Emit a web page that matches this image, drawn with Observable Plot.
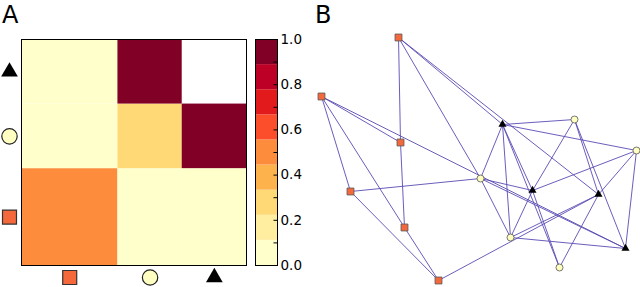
<!DOCTYPE html>
<html><head><meta charset="utf-8">
<script src="https://cdn.jsdelivr.net/npm/d3@7"></script>
<script src="https://cdn.jsdelivr.net/npm/@observablehq/plot@0.6"></script>
<style>
html,body{margin:0;padding:0;background:#fff;}
#fig{position:relative;width:640px;height:287px;overflow:hidden;font-family:"DejaVu Sans",sans-serif;}
#fig > *{position:absolute;}
.panel{font-size:24px;line-height:24px;color:#000;}
</style></head><body>
<div id="fig"></div>
<script>
// ---------- data ----------
const groups = ["square", "circle", "triangle"];
const groupSizes = [3, 2, 2];
// rows = y group (bottom to top), columns = x group (left to right)
const blockValues = [
  [0.5, 0.0, 0.0],   // square row
  [0.0, 0.3, 1.0],   // circle row
  [0.0, 1.0, NaN]    // triangle row (NaN = empty)
];
const colorbarTicks = [0, 0.1, 0.2, 0.3, 0.4, 0.5, 0.6, 0.7, 0.8, 0.9, 1.0];
const colorbarLabels = [0, 0.2, 0.4, 0.6, 0.8, 1.0];

const nodeIds    = ["S1","S2","S3","S4","S5","S6","C1","C2","C3","C4","C5","T1","T2","T3","T4"];
const nodeGroup  = ["square","square","square","square","square","square","circle","circle","circle","circle","circle","triangle","triangle","triangle","triangle"];
const nodeX      = [78, 1, 80, 30, 84, 118, 160, 254, 316, 190, 239, 182, 212, 278, 305];
const nodeY      = [1, 60, 106, 155, 191, 244, 142, 83, 114, 201, 231, 88, 154, 158, 212];

const edgeSource = ["S1","S1","S1","S1","S2","S2","S2","S2","S3","S4","S4","S5","S6",
                    "C1","C1","C1","C1","T1","T1","T1","T1","T1","C2","C2","C2",
                    "C3","C3","C3","C4","C4","C4","T2","T3"];
const edgeTarget = ["S3","C1","T1","T3","S3","T4","S4","S5","S5","C1","S6","S6","T3",
                    "T1","C4","T2","T4","C2","C3","T2","C4","C5","T2","T3","T4",
                    "T2","T3","T4","T2","T3","T4","C5","C5"];

// ---------- styles ----------
const palette = ["#ffffcc","#ffeda0","#fed976","#feb24c","#fd8d3c","#fc4e2a","#e31a1c","#bd0026","#800026"];
const thresholds = palette.slice(1).map((_, i) => (i + 1) / palette.length);
const colorScale = {type: "threshold", domain: thresholds, range: palette};
const groupStyle = {
  square:   {symbol: "square",   fill: "#f4683c", stroke: "#333"},
  circle:   {symbol: "circle",   fill: "#ffffc2", stroke: "#222"},
  triangle: {symbol: "triangle", fill: "#000",    stroke: "none"}
};
const axisR = {square: 7.9, circle: 7.7, triangle: 6.2};
const nodeR = {square: 3.9, circle: 3.5, triangle: 3.0};

const fig = document.getElementById("fig");

// ---------- panel A: block heatmap ----------
const starts = groupSizes.map((_, i) => d3.sum(groupSizes.slice(0, i)));
const total = d3.sum(groupSizes);
const cells = [];
groups.forEach((gy, iy) => groups.forEach((gx, ix) => {
  cells.push({x1: starts[ix], x2: starts[ix] + groupSizes[ix],
              y1: starts[iy], y2: starts[iy] + groupSizes[iy],
              value: blockValues[iy][ix]});
}));
const centers = groups.map((g, i) => ({group: g, c: starts[i] + groupSizes[i] / 2}));

const heat = Plot.plot({
  width: 250, height: 287,
  marginLeft: 21, marginRight: 4, marginTop: 39, marginBottom: 22,
  x: {domain: [0, total], axis: null},
  y: {domain: [0, total], axis: null},
  color: colorScale,
  marks: [
    Plot.rect(cells.filter(d => !isNaN(d.value)), {x1: "x1", x2: "x2", y1: "y1", y2: "y2", fill: "value"}),
    Plot.frame({stroke: "#000", strokeWidth: 1}),
    ...groups.map(g => Plot.dot(centers.filter(d => d.group === g), {
      x: "c", frameAnchor: "bottom", dy: 12, r: axisR[g],
      symbol: groupStyle[g].symbol, fill: groupStyle[g].fill, stroke: groupStyle[g].stroke, strokeWidth: 1.2, clip: false
    })),
    ...groups.map(g => Plot.dot(centers.filter(d => d.group === g), {
      y: "c", frameAnchor: "left", dx: -12, r: axisR[g],
      symbol: groupStyle[g].symbol, fill: groupStyle[g].fill, stroke: groupStyle[g].stroke, strokeWidth: 1.2, clip: false
    }))
  ]
});
heat.style.left = "0px"; heat.style.top = "0px"; heat.style.overflow = "visible";
fig.appendChild(heat);

// ---------- colorbar ----------
const bins = palette.map((_, i) => ({y1: i / palette.length, y2: (i + 1) / palette.length}));
const cbar = Plot.plot({
  width: 60, height: 287,
  marginLeft: 5, marginRight: 33, marginTop: 39, marginBottom: 22,
  x: {domain: [0, 1], axis: null},
  y: {domain: [0, 1], axis: null},
  color: colorScale,
  style: {fontFamily: "DejaVu Sans", fontSize: "13.5px"},
  marks: [
    Plot.rect(bins, {x1: 0, x2: 1, y1: "y1", y2: "y2", fill: d => (d.y1 + d.y2) / 2}),
    Plot.ruleY(colorbarTicks, {y: d => d, x1: 0.84, x2: 1, stroke: "#000", strokeWidth: 1}),
    Plot.frame({stroke: "#000", strokeWidth: 1}),
    Plot.text(colorbarLabels, {y: d => d, text: d => d3.format(".1f")(d), frameAnchor: "right",
      textAnchor: "start", dx: 3, fill: "#000", clip: false})
  ]
});
cbar.style.left = "250px"; cbar.style.top = "0px"; cbar.style.overflow = "visible";
fig.appendChild(cbar);

// ---------- panel B: network ----------
const nodes = nodeIds.map((id, i) => ({id, group: nodeGroup[i], x: nodeX[i], y: nodeY[i]}));
const byId = new Map(nodes.map(n => [n.id, n]));
const edges = edgeSource.map((s, i) => ({s: byId.get(s), t: byId.get(edgeTarget[i])}));

const net = Plot.plot({
  width: 340, height: 287,
  marginLeft: 0, marginRight: 0, marginTop: 0, marginBottom: 0,
  x: {domain: [-20, 320], range: [0, 340], axis: null},
  y: {domain: [-36, 251], range: [0, 287], axis: null},
  marks: [
    Plot.link(edges, {x1: d => d.s.x, y1: d => d.s.y, x2: d => d.t.x, y2: d => d.t.y,
      stroke: "#5a4db5", strokeWidth: 1, strokeOpacity: 0.9}),
    ...groups.map(g => Plot.dot(nodes.filter(n => n.group === g), {
      x: "x", y: "y", r: nodeR[g], symbol: groupStyle[g].symbol,
      fill: groupStyle[g].fill, stroke: g === "triangle" ? "none" : "#555", strokeWidth: 0.8
    }))
  ]
});
net.style.left = "300px"; net.style.top = "0px";
fig.appendChild(net);

// ---------- panel labels ----------
for (const [t, left] of [["A", 2], ["B", 315]]) {
  const d = document.createElement("div");
  d.className = "panel"; d.textContent = t;
  d.style.left = left + "px"; d.style.top = "3px";
  fig.appendChild(d);
}
</script>
</body></html>
